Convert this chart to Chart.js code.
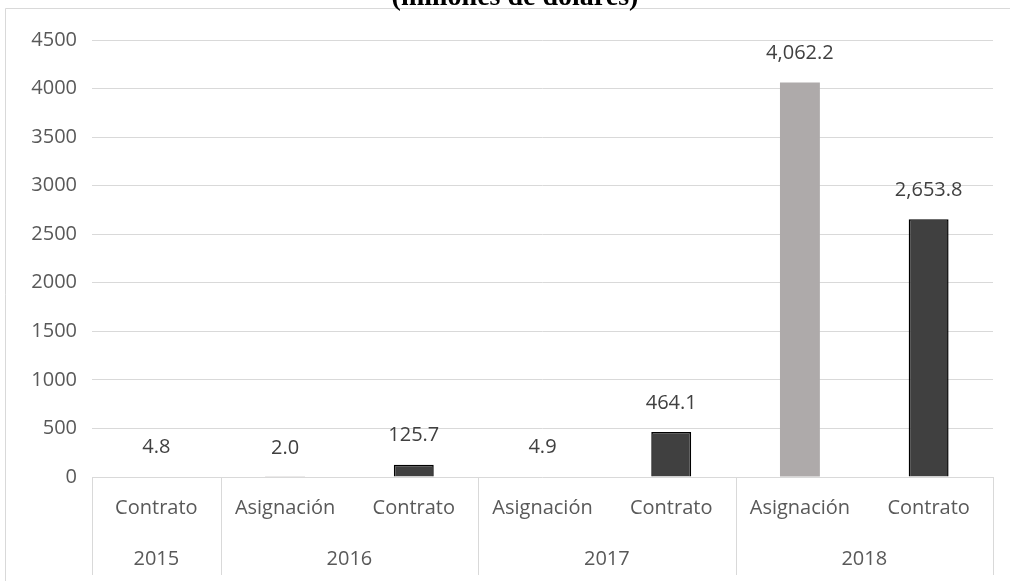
<!DOCTYPE html>
<html>
<head>
<meta charset="utf-8">
<script src="https://cdn.jsdelivr.net/npm/chart.js@4"></script>
<style>
  html, body { margin: 0; padding: 0; background: #fff; }
  #wrap { width: 1010px; height: 581px; }
</style>
</head>
<body>
<div id="wrap"><canvas id="chart"></canvas></div>
<script>
// datos (millones de dólares)
const categories = ['Contrato', 'Asignación', 'Contrato', 'Asignación', 'Contrato', 'Asignación', 'Contrato']
const years = ['2015', '2016', '2016', '2017', '2017', '2018', '2018']
const values = [4.8, 2.0, 125.7, 4.9, 464.1, 4062.2, 2653.8]
const yTicks = [0, 500, 1000, 1500, 2000, 2500, 3000, 3500, 4000, 4500]

const gray = '#aeaaaa'
const dark = '#404040'
const textColor = '#595959'
const font = "'Open Sans', sans-serif"

const barColors = categories.map(c => c === 'Asignación' ? gray : dark)
const borderColors = categories.map(c => c === 'Asignación' ? gray : '#000')
const borderWidths = categories.map(c => c === 'Asignación' ? 0 : 1.5)

// frame, title, year row, separators, value labels
const extras = {
  id: 'extras',
  beforeDraw(chart) {
    const ctx = chart.ctx
    ctx.save()
    ctx.fillStyle = '#fff'
    ctx.fillRect(0, 0, chart.width, chart.height)
    ctx.strokeStyle = '#d9d9d9'
    ctx.lineWidth = 1
    ctx.beginPath()
    ctx.moveTo(5.5, chart.height)
    ctx.lineTo(5.5, 8.5)
    ctx.lineTo(chart.width, 8.5)
    ctx.stroke()
    ctx.fillStyle = '#000'
    ctx.font = "bold 28px 'Liberation Serif', serif"
    ctx.textAlign = 'center'
    ctx.textBaseline = 'alphabetic'
    ctx.fillText('(millones de dólares)', 515, 5)
    ctx.restore()
  },
  afterDraw(chart) {
    const ctx = chart.ctx
    const x = chart.scales.x
    const area = chart.chartArea
    const half = (x.getPixelForValue(1) - x.getPixelForValue(0)) / 2
    ctx.save()
    // group separators
    ctx.strokeStyle = '#d9d9d9'
    ctx.lineWidth = 1
    const bounds = []
    years.forEach((y, i) => {
      if (i === 0 || years[i - 1] !== y) bounds.push(i)
    })
    bounds.push(years.length)
    bounds.forEach(b => {
      const px = Math.round(x.getPixelForValue(b) - half) + 0.5
      ctx.beginPath()
      ctx.moveTo(px, area.bottom)
      ctx.lineTo(px, area.bottom + 98)
      ctx.stroke()
    })
    // year labels
    ctx.fillStyle = textColor
    ctx.font = '20px ' + font
    ctx.textAlign = 'center'
    ctx.textBaseline = 'middle'
    for (let k = 0; k < bounds.length - 1; k++) {
      const a = x.getPixelForValue(bounds[k])
      const b = x.getPixelForValue(bounds[k + 1] - 1)
      ctx.fillText(years[bounds[k]], (a + b) / 2, area.bottom + 82)
    }
    // value labels
    ctx.fillStyle = dark
    const meta = chart.getDatasetMeta(0)
    meta.data.forEach((bar, i) => {
      const v = values[i].toLocaleString('en-US', { minimumFractionDigits: 1, maximumFractionDigits: 1 })
      ctx.fillText(v, bar.x, bar.y - 29)
    })
    ctx.restore()
  }
}

new Chart(document.getElementById('chart'), {
  type: 'bar',
  data: {
    labels: categories,
    datasets: [{
      data: values,
      backgroundColor: barColors,
      borderColor: borderColors,
      borderWidth: borderWidths,
      categoryPercentage: 1,
      barPercentage: 0.31
    }]
  },
  options: {
    responsive: true,
    maintainAspectRatio: false,
    animation: false,
    layout: { padding: { left: 0, right: 17, top: 40, bottom: 0 } },
    plugins: {
      legend: { display: false },
      tooltip: { enabled: false }
    },
    scales: {
      x: {
        grid: { display: false, drawTicks: false },
        border: { display: false },
        ticks: {
          color: textColor,
          font: { family: font, size: 20 },
          padding: 19,
          autoSkip: false,
          maxRotation: 0
        },
        afterFit(scale) { scale.height = 104 }
      },
      y: {
        min: 0,
        max: 4500,
        afterBuildTicks(scale) { scale.ticks = yTicks.map(v => ({ value: v })) },
        grid: { color: '#d9d9d9', lineWidth: 1, drawTicks: false },
        border: { display: false },
        ticks: {
          color: textColor,
          font: { family: font, size: 20 },
          padding: 15,
          callback: v => String(v)
        },
        afterFit(scale) { scale.width = 92 }
      }
    }
  },
  plugins: [extras]
})
</script>
</body>
</html>
